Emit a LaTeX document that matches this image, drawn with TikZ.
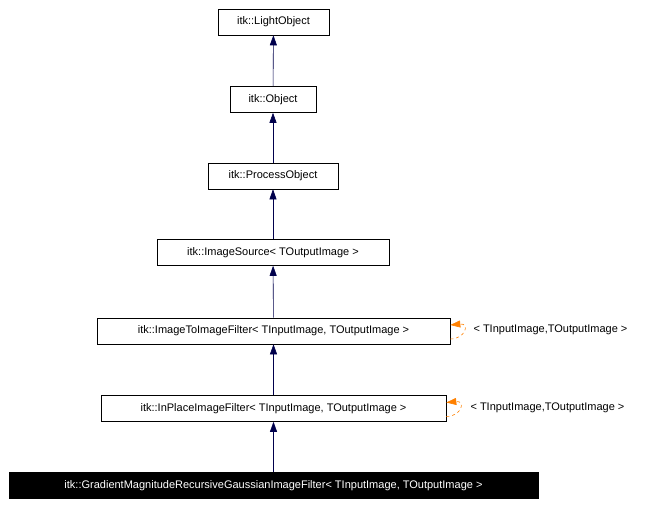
\documentclass[tikz,border=0pt]{standalone}
\usepackage{fontspec}
\setmainfont{Liberation Sans}
\usetikzlibrary{arrows.meta}
\begin{document}
\begin{tikzpicture}[x=1pt, y=-1pt,
    cls/.style={draw, line width=0.6pt, inner sep=0pt, minimum height=26pt, font=\fontsize{11}{12}\selectfont},
    inh/.style={draw=black!70!blue, -{Triangle[width=7pt, length=10pt]}, line width=0.6pt},
    tpl/.style={draw=orange, dashed, line width=0.6pt, -{Triangle[width=7pt, length=10pt]}}]
    \useasboundingbox (0, 0) rectangle (670, 506);
    \node[cls, minimum width=111pt] (light) at (273.5, 22) {itk::LightObject};
    \node[cls, minimum width=86pt] (obj) at (273, 99.5) {itk::Object};
    \node[cls, minimum width=130pt] (proc) at (273, 176) {itk::ProcessObject};
    \node[cls, minimum width=232pt] (src) at (273, 252.5) {itk::ImageSource< TOutputImage >};
    \node[cls, minimum width=353pt] (i2i) at (273.5, 331) {itk::ImageToImageFilter< TInputImage, TOutputImage >};
    \node[cls, minimum width=345pt] (inpl) at (273.5, 408.5) {itk::InPlaceImageFilter< TInputImage, TOutputImage >};
    \node[cls, fill=black, text=white, minimum width=529pt] (grad) at (273.5, 485.5) {itk::GradientMagnitudeRecursiveGaussianImageFilter< TInputImage, TOutputImage >};
    % inheritance
    \draw[inh] (obj) -- (light);
    \draw[inh] (proc) -- (obj);
    \draw[inh] (src) -- (proc);
    \draw[inh] (i2i) -- (src);
    \draw[inh] (inpl) -- (i2i);
    \draw[inh] (grad) -- (inpl);
    % template self links
    \draw[tpl] ([yshift=-8pt]i2i.east) .. controls +(15, 0) and +(20, -2) .. ([yshift=6pt]i2i.east);
    \node[anchor=west, font=\fontsize{11}{12}\selectfont] (i2ilbl) at (470, 330) {< TInputImage,TOutputImage >};
    \draw[tpl] ([yshift=-8pt]inpl.east) .. controls +(15, 0) and +(20, -2) .. ([yshift=6pt]inpl.east);
    \node[anchor=west, font=\fontsize{11}{12}\selectfont] (inpllbl) at (467, 408) {< TInputImage,TOutputImage >};
\end{tikzpicture}
\end{document}
